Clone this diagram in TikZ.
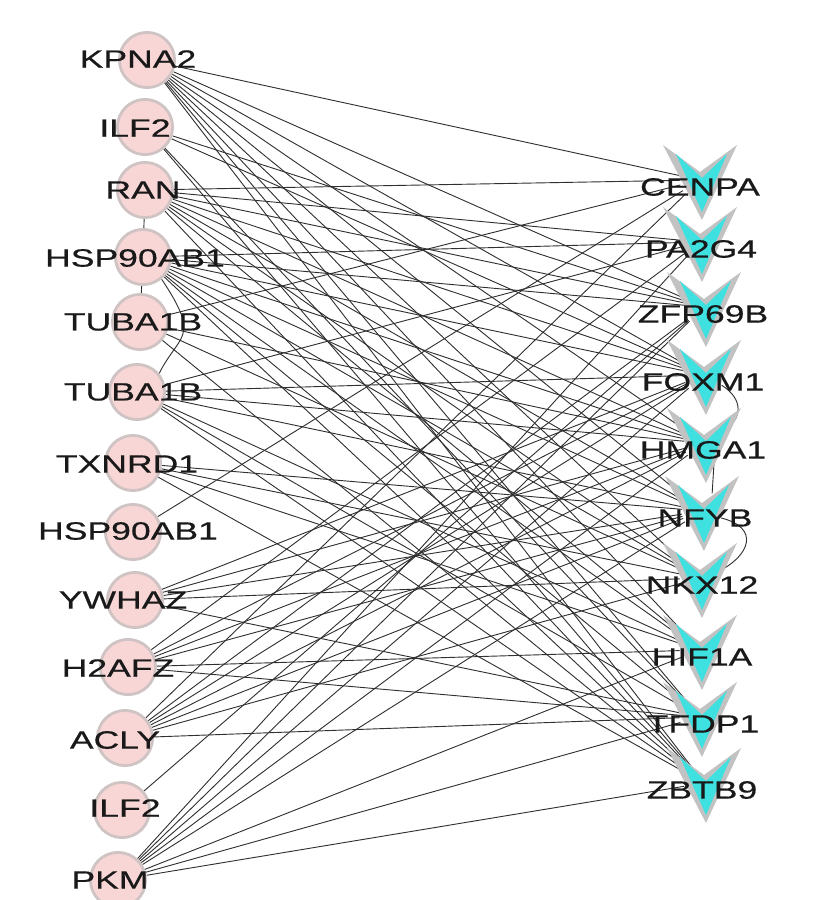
\documentclass[tikz,border=0pt]{standalone}
\usepackage{fontspec}
\setmainfont{Liberation Sans}
\newfontfamily\labelfont[FakeBold=0.4]{Liberation Sans}
\usepackage{xcolor}
\usepackage{tikz}
\usetikzlibrary{backgrounds}

\definecolor{nodepink}{HTML}{F8D6D6}
\definecolor{ringgray}{HTML}{CFC3C3}
\definecolor{tfcyan}{HTML}{3FE0E0}
\definecolor{tfgray}{HTML}{C2C2C2}
\definecolor{edgegray}{HTML}{303030}

\begin{document}
\begin{tikzpicture}[
    x=0.025cm, y=-0.025cm,
    gene/.style={circle, draw=ringgray, line width=2pt, fill=nodepink, minimum size=1.38cm, inner sep=0pt},
    tfhub/.style={circle, minimum size=1cm, inner sep=0pt},
    lbl/.style={font=\labelfont\fontsize{17.8pt}{20pt}\selectfont, text=black!90, xscale=1.42, inner sep=0pt},
    link/.style={draw=edgegray, line width=0.65pt},
    tfshape/.pic={
        \fill[tfgray] (-37,-42) -- (0,-15) -- (37,-42) -- (2,33) -- cycle;
        \fill[tfcyan] (-24,-33) -- (2,-9) -- (27,-33) -- (2,25) -- cycle;
    }
]
    \useasboundingbox (0,0) rectangle (818,900);

    % Left column: proteins
    \node[gene] (kpna2) at (147,60) {};
    \node[gene] (ilf2a) at (145,127) {};
    \node[gene] (ran) at (145,190) {};
    \node[gene] (hspa) at (143,257) {};
    \node[gene] (tubaa) at (140,322) {};
    \node[gene] (tubab) at (137,392) {};
    \node[gene] (txnrd1) at (133,463) {};
    \node[gene] (hspb) at (133,532) {};
    \node[gene] (ywhaz) at (135,600) {};
    \node[gene] (h2afz) at (128,667) {};
    \node[gene] (acly) at (125,738) {};
    \node[gene] (ilf2b) at (122,810) {};
    \node[gene] (pkm) at (118,880) {};

    \node[lbl] (kpna2t) at (138,59) {KPNA2};
    \node[lbl] (ilf2at) at (135,128) {ILF2};
    \node[lbl] (rant) at (143,190) {RAN};
    \node[lbl] (hspat) at (135,258) {HSP90AB1};
    \node[lbl] (tubaat) at (133,322) {TUBA1B};
    \node[lbl] (tubabt) at (133,392) {TUBA1B};
    \node[lbl] (txnrd1t) at (127,464) {TXNRD1};
    \node[lbl] (hspbt) at (128,531) {HSP90AB1};
    \node[lbl] (ywhazt) at (123,600) {YWHAZ};
    \node[lbl] (h2afzt) at (118,668) {H2AFZ};
    \node[lbl] (aclyt) at (115,740) {ACLY};
    \node[lbl] (ilf2bt) at (125,808) {ILF2};
    \node[lbl] (pkmt) at (110,880) {PKM};

    % Right column: transcription factors
    \pic at (700,187) {tfshape};
    \pic at (700,249) {tfshape};
    \pic at (704,314) {tfshape};
    \pic at (704,382) {tfshape};
    \pic at (704,450) {tfshape};
    \pic at (702,518) {tfshape};
    \pic at (700,585) {tfshape};
    \pic at (700,657) {tfshape};
    \pic at (700,724) {tfshape};
    \pic at (704,790) {tfshape};

    \node[tfhub] (cenpa) at (700,180) {};
    \node[tfhub] (pa2g4) at (700,242) {};
    \node[tfhub] (zfp69b) at (704,307) {};
    \node[tfhub] (foxm1) at (704,375) {};
    \node[tfhub] (hmga1) at (704,443) {};
    \node[tfhub] (nfyb) at (702,511) {};
    \node[tfhub] (nkx12) at (700,578) {};
    \node[tfhub] (hif1a) at (700,650) {};
    \node[tfhub] (tfdp1) at (700,717) {};
    \node[tfhub] (zbtb9) at (704,783) {};

    \node[lbl] (cenpat) at (700,187) {CENPA};
    \node[lbl] (pa2g4t) at (701,249) {PA2G4};
    \node[lbl] (zfp69bt) at (703,314) {ZFP69B};
    \node[lbl] (foxm1t) at (703,382) {FOXM1};
    \node[lbl] (hmga1t) at (703,450) {HMGA1};
    \node[lbl] (nfybt) at (705,518) {NFYB};
    \node[lbl] (nkx12t) at (702,585) {NKX12};
    \node[lbl] (hif1at) at (702,657) {HIF1A};
    \node[lbl] (tfdp1t) at (703,724) {TFDP1};
    \node[lbl] (zbtb9t) at (702,790) {ZBTB9};

    % Edges
    \begin{scope}[on background layer]
        \foreach \t in {cenpa,zfp69b,foxm1,hmga1,nfyb,nkx12,hif1a,tfdp1,zbtb9}
            \draw[link] (kpna2) -- (\t);
        \foreach \t in {zfp69b,foxm1,tfdp1,zbtb9}
            \draw[link] (ilf2a) -- (\t);
        \foreach \t in {cenpa,pa2g4,zfp69b,foxm1,hmga1,nfyb,nkx12,hif1a,zbtb9}
            \draw[link] (ran) -- (\t);
        \foreach \t in {pa2g4,zfp69b,foxm1,hmga1,nfyb,nkx12,hif1a,tfdp1,zbtb9}
            \draw[link] (hspa) -- (\t);
        \foreach \t in {cenpa,hmga1,nkx12,zbtb9}
            \draw[link] (tubaa) -- (\t);
        \foreach \t in {pa2g4,foxm1,hmga1,nfyb,hif1a,tfdp1,zbtb9}
            \draw[link] (tubab) -- (\t);
        \foreach \t in {nfyb,nkx12,hif1a,zbtb9}
            \draw[link] (txnrd1) -- (\t);
        \draw[link] (hspb) -- (cenpa);
        \foreach \t in {foxm1,hmga1,nfyb,nkx12,tfdp1}
            \draw[link] (ywhaz) -- (\t);
        \foreach \t in {pa2g4,foxm1,hmga1,nfyb,hif1a,tfdp1}
            \draw[link] (h2afz) -- (\t);
        \foreach \t in {cenpa,zfp69b,foxm1,hmga1,nfyb,nkx12,tfdp1}
            \draw[link] (acly) -- (\t);
        \draw[link] (ilf2b) -- (zfp69b);
        \foreach \t in {pa2g4,zfp69b,foxm1,hmga1,nfyb,hif1a,tfdp1,zbtb9}
            \draw[link] (pkm) -- (\t);

        % Protein-protein and TF-TF links
        \draw[link] (ran) -- (hspa);
        \draw[link] (hspa) -- (tubaa);
        \draw[link] (hspa.-50) .. controls +(40,60) and +(20,-40) .. (tubab.40);
        \draw[link] (foxm1.-30) .. controls +(22,14) and +(22,-14) .. (hmga1.30);
        \draw[link] (hmga1.-60) -- (nfyb.60);
        \draw[link] (nfyb.-20) .. controls +(40,10) and +(30,-15) .. (nkx12.20);
    \end{scope}
\end{tikzpicture}
\end{document}
